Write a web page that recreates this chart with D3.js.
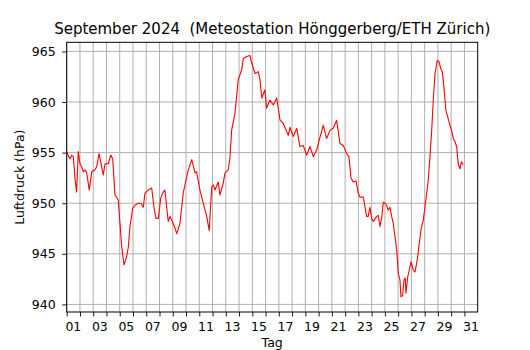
<!DOCTYPE html>
<html>
<head>
<meta charset="utf-8">
<script src="https://cdn.jsdelivr.net/npm/d3@7"></script>
<style>
  body { margin: 0; background: #fff; }
  text { font-family: "DejaVu Sans", sans-serif; }
</style>
</head>
<body>
<div id="root"></div>
<script>
const width = 530;
const height = 350;

// day of month (fractional) and air pressure in hPa
const days = [
  1.00, 1.12, 1.25, 1.38, 1.50, 1.62, 1.75, 1.87, 2.00, 2.13, 2.25, 2.38, 2.51, 2.70, 2.89,
  3.13, 3.26, 3.44, 3.64, 3.76, 3.89, 4.14, 4.32, 4.47, 4.64, 4.77, 4.89, 5.15, 5.32, 5.52,
  5.65, 5.77, 5.98, 6.15, 6.40, 6.60, 6.78, 6.90, 7.15, 7.41, 7.58, 7.73, 7.91, 8.09, 8.28,
  8.41, 8.54, 8.66, 8.79, 9.04, 9.30, 9.54, 9.79, 9.92, 10.17, 10.43, 10.68, 10.80, 11.05,
  11.30, 11.56, 11.75, 11.94, 12.06, 12.18, 12.43, 12.56, 12.81, 12.94, 13.19, 13.32, 13.44,
  13.69, 13.94, 14.20, 14.32, 14.57, 14.82, 14.90, 15.20, 15.45, 15.58, 15.71, 15.95, 16.08,
  16.33, 16.58, 16.84, 17.09, 17.33, 17.71, 17.84, 18.09, 18.35, 18.59, 18.84, 19.10, 19.35,
  19.60, 19.85, 20.10, 20.35, 20.60, 20.86, 21.10, 21.36, 21.61, 21.86, 22.12, 22.29, 22.44,
  22.61, 22.82, 22.99, 23.12, 23.37, 23.62, 23.74, 23.87, 24.00, 24.12, 24.38, 24.50, 24.63,
  24.76, 24.88, 25.00, 25.13, 25.25, 25.38, 25.51, 25.63, 25.76, 25.89, 26.01, 26.14, 26.21,
  26.34, 26.44, 26.54, 26.59, 26.72, 26.84, 26.97, 27.14, 27.27, 27.44, 27.59, 27.74, 27.89,
  28.02, 28.15, 28.27, 28.40, 28.53, 28.65, 28.78, 28.95, 29.08, 29.21, 29.33, 29.45, 29.60,
  29.70, 29.91, 30.03, 30.16, 30.28, 30.41, 30.53, 30.66, 30.78, 30.91
];
const pressure = [
  955.1, 954.7, 954.4, 954.75, 954.6, 952.5, 951.1, 955.1, 953.9, 953.6, 953.1, 953.3, 953.0, 951.3, 953.1,
  953.3, 953.6, 954.9, 953.6, 952.8, 953.9, 953.9, 954.75, 954.4, 950.8, 950.6, 950.3, 945.7, 943.9, 944.7,
  945.7, 947.7, 949.5, 949.8, 950.0, 950.0, 949.6, 951.0, 951.3, 951.5, 949.6, 948.5, 948.5, 950.5, 951.1,
  951.3, 949.6, 948.2, 948.7, 948.0, 947.0, 948.0, 951.0, 951.8, 953.3, 954.3, 953.0, 953.1, 951.3,
  950.0, 948.7, 947.3, 951.6, 951.8, 951.3, 952.1, 950.8, 952.0, 953.0, 953.3, 954.6, 957.2,
  958.9, 962.2, 963.2, 964.3, 964.5, 964.6, 964.1, 962.8, 963.0, 962.2, 960.4, 961.2, 959.4,
  960.2, 959.7, 960.4, 958.2, 957.9, 956.7, 957.5, 956.6, 957.4, 955.6, 955.7, 954.75, 955.6,
  954.6, 955.25, 956.5, 957.7, 956.4, 957.2, 957.4, 958.2, 955.9, 955.7, 954.9, 954.6, 952.5,
  952.1, 952.2, 951.0, 950.6, 950.6, 948.7, 948.7, 949.6, 948.5, 948.2, 948.7, 948.8, 947.7,
  948.6, 950.1, 950.0, 949.8, 949.3, 949.6, 948.7, 948.0, 946.7, 945.4, 943.1, 942.4, 940.75,
  940.9, 942.4, 942.6, 941.1, 942.7, 943.4, 944.2, 943.4, 943.2, 944.4, 946.0, 947.5, 948.3,
  949.6, 951.0, 952.3, 954.6, 957.2, 960.2, 962.8, 964.1, 964.0, 963.3, 963.0, 961.5, 959.2,
  958.7, 957.7, 957.2, 956.4, 956.1, 955.6, 953.9, 953.4, 954.1, 953.8
];
const yTicks = [940, 945, 950, 955, 960, 965];
const dayTicks = d3.range(1, 32);
const dayLabels = dayTicks.filter((d) => d % 2 === 1);

const margin = { top: 42.3, right: 52.3, bottom: 38, left: 66.7 };
const innerW = width - margin.left - margin.right;
const innerH = height - margin.top - margin.bottom;

const svg = d3
  .select("#root")
  .append("svg")
  .attr("width", width)
  .attr("height", height);

const x = d3.scaleLinear().domain([1, 32]).range([0, innerW]);
const y = d3.scaleLinear().domain([939.25, 965.9]).range([innerH, 0]);

const plot = svg
  .append("g")
  .attr("transform", `translate(${margin.left},${margin.top})`);

// Grid
plot
  .append("g")
  .selectAll("line")
  .data(dayTicks)
  .enter()
  .append("line")
  .attr("x1", (d) => x(d))
  .attr("x2", (d) => x(d))
  .attr("y1", 0)
  .attr("y2", innerH)
  .attr("stroke", "#b0b0b0")
  .attr("stroke-width", 1);

plot
  .append("g")
  .selectAll("line")
  .data(yTicks)
  .enter()
  .append("line")
  .attr("x1", 0)
  .attr("x2", innerW)
  .attr("y1", (d) => y(d))
  .attr("y2", (d) => y(d))
  .attr("stroke", "#b0b0b0")
  .attr("stroke-width", 1);

// Pressure line
const points = days.map((d, i) => [d, pressure[i]]);
plot
  .append("path")
  .datum(points)
  .attr("fill", "none")
  .attr("stroke", "#ff0000")
  .attr("stroke-width", 1.1)
  .attr("stroke-linejoin", "round")
  .attr("d", d3.line().x((d) => x(d[0])).y((d) => y(d[1])));

// Axes
const xAxis = plot
  .append("g")
  .attr("transform", `translate(0,${innerH})`)
  .call(d3.axisBottom(x).tickValues(dayTicks).tickSize(4.5).tickFormat(""));
xAxis.select(".domain").remove();
xAxis.selectAll("line").attr("stroke", "#000").attr("stroke-width", 0.9);

plot
  .append("g")
  .selectAll("text")
  .data(dayLabels)
  .enter()
  .append("text")
  .attr("x", (d) => x(d + 0.5))
  .attr("y", innerH + 19.3)
  .attr("text-anchor", "middle")
  .attr("font-size", "12.5px")
  .text((d) => d3.format("02d")(d));

const yAxis = plot
  .append("g")
  .call(d3.axisLeft(y).tickValues(yTicks).tickSize(4.5).tickPadding(6.5));
yAxis.select(".domain").remove();
yAxis.selectAll("line").attr("stroke", "#000").attr("stroke-width", 0.9);
yAxis
  .selectAll("text")
  .attr("font-family", "DejaVu Sans")
  .attr("font-size", "12.5px")
  .attr("fill", "#000");

// Frame
plot
  .append("rect")
  .attr("width", innerW)
  .attr("height", innerH)
  .attr("fill", "none")
  .attr("stroke", "#000")
  .attr("stroke-width", 1);

// Titles
svg
  .append("text")
  .attr("x", margin.left + innerW / 2)
  .attr("y", 34.3)
  .attr("text-anchor", "middle")
  .attr("font-size", "15px")
  .style("white-space", "pre")
  .text("September 2024  (Meteostation Hönggerberg/ETH Zürich)");

svg
  .append("text")
  .attr("x", margin.left + innerW / 2)
  .attr("y", 347)
  .attr("text-anchor", "middle")
  .attr("font-size", "12.5px")
  .text("Tag");

svg
  .append("text")
  .attr("transform", `translate(24,${margin.top + innerH / 2}) rotate(-90)`)
  .attr("text-anchor", "middle")
  .attr("font-size", "12.5px")
  .text("Luftdruck (hPa)");
</script>
</body>
</html>
